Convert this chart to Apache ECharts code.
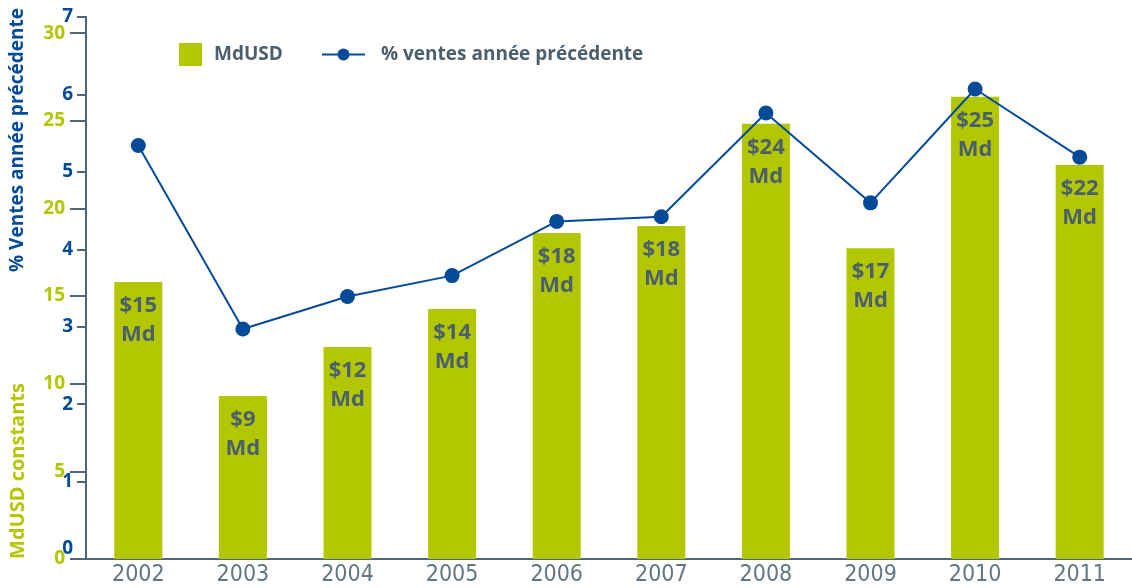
<!DOCTYPE html>
<html>
<head>
<meta charset="utf-8">
<script src="https://cdn.jsdelivr.net/npm/echarts@6/dist/echarts.min.js"></script>
<style>
  html, body { margin: 0; padding: 0; background: #fff; }
  #chart { width: 1132px; height: 588px; }
</style>
</head>
<body>
<div id="chart"></div>
<script>
  // données
  const years = ['2002', '2003', '2004', '2005', '2006', '2007', '2008', '2009', '2010', '2011'];
  const mdUsd = [15.8, 9.3, 12.1, 14.26, 18.6, 19.0, 24.83, 17.73, 26.37, 22.48];
  const barLabels = ['$15', '$9', '$12', '$14', '$18', '$18', '$24', '$17', '$25', '$22'];
  const ventesPct = [5.34, 2.97, 3.39, 3.66, 4.36, 4.42, 5.76, 4.60, 6.07, 5.19];
  const greenTicks = [0, 5, 10, 15, 20, 25, 30];

  const GREEN = '#b2c700';
  const BLUE = '#034b99';
  const SLATE = '#4b5f6e';
  const AXIS = '#50667a';
  const FONT = '"Open Sans", sans-serif';

  const chart = echarts.init(document.getElementById('chart'));
  const option = {
    animation: false,
    textStyle: { fontFamily: FONT },
    grid: { left: 86, right: 0, top: 17, bottom: 29 },
    legend: [
      {
        data: ['MdUSD'],
        left: 174, top: 38,
        itemWidth: 23, itemHeight: 23,
        icon: 'rect',
        textStyle: { color: SLATE, fontWeight: 'bold', fontSize: 19, fontFamily: FONT, padding: [0, 0, 0, 7] }
      },
      {
        data: ['% ventes année précédente'],
        left: 316, top: 40,
        itemWidth: 43, itemHeight: 15,
        textStyle: { color: SLATE, fontWeight: 'bold', fontSize: 19, fontFamily: FONT, padding: [0, 0, 0, 11] }
      }
    ],
    graphic: [
      {
        type: 'text', x: 18, y: 140, rotation: Math.PI / 2,
        style: { text: '% Ventes année précédente', fill: BLUE, font: 'bold 19px "Open Sans"', align: 'center', verticalAlign: 'middle' }
      },
      {
        type: 'text', x: 18, y: 471, rotation: Math.PI / 2,
        style: { text: 'MdUSD constants', fill: GREEN, font: 'bold 20px "Open Sans"', align: 'center', verticalAlign: 'middle' }
      }
    ],
    xAxis: {
      type: 'category',
      data: years,
      axisLine: { lineStyle: { color: AXIS, width: 2 } },
      axisTick: { length: 17, lineStyle: { color: AXIS, width: 2 } },
      axisLabel: { color: '#627683', fontSize: 23, fontFamily: '"Liberation Sans Narrow", "DejaVu Sans Condensed", sans-serif', margin: 5 }
    },
    yAxis: [
      {
        type: 'value',
        position: 'left',
        min: 0,
        max: 30.92,
        interval: 5,
        splitLine: { show: false },
        axisLine: { show: true, lineStyle: { color: AXIS, width: 2 } },
        axisTick: { show: true, length: 16, customValues: greenTicks, lineStyle: { color: AXIS, width: 2 } },
        axisLabel: { customValues: greenTicks, color: GREEN, fontWeight: 'bold', fontSize: 19, margin: 21 }
      },
      {
        type: 'value',
        position: 'left',
        offset: 0,
        min: 0,
        max: 7,
        interval: 1,
        splitLine: { show: false },
        axisLine: { show: true, lineStyle: { color: AXIS, width: 2 } },
        axisTick: { show: true, length: 9, lineStyle: { color: AXIS, width: 2 } },
        axisLabel: {
          color: BLUE, fontWeight: 'bold', fontSize: 19, margin: 13,
          formatter: function (v) { return v === 0 ? '{z|0}' : String(v); },
          rich: { z: { color: BLUE, fontWeight: 'bold', fontSize: 19, padding: [0, 0, 20, 0] } }
        }
      }
    ],
    series: [
      {
        name: 'MdUSD',
        type: 'bar',
        yAxisIndex: 0,
        data: mdUsd,
        barWidth: 48,
        itemStyle: { color: GREEN },
        label: {
          show: true,
          position: 'insideTop',
          distance: 9,
          color: SLATE,
          fontWeight: 'bold',
          fontSize: 22,
          lineHeight: 29,
          formatter: function (p) { return barLabels[p.dataIndex] + '\nMd'; }
        }
      },
      {
        name: '% ventes année précédente',
        type: 'line',
        yAxisIndex: 1,
        data: ventesPct,
        symbol: 'circle',
        symbolSize: 15,
        lineStyle: { color: BLUE, width: 2 },
        itemStyle: { color: BLUE }
      }
    ]
  };
  chart.setOption(option);
</script>
</body>
</html>
